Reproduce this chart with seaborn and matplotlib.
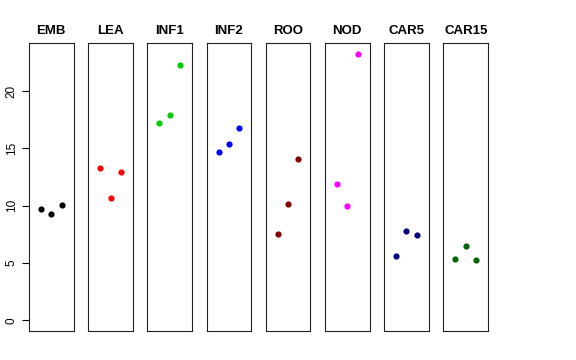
import pandas as pd
import numpy as np
import seaborn as sns
import matplotlib.pyplot as plt

# tissues and their three replicate values
tissues = ['EMB', 'LEA', 'INF1', 'INF2', 'ROO', 'NOD', 'CAR5', 'CAR15']
reps = [1, 2, 3]
emb = [9.70, 9.24, 10.05]
lea = [13.28, 10.64, 12.93]
inf1 = [17.26, 17.90, 22.28]
inf2 = [14.70, 15.37, 16.77]
roo = [7.52, 10.11, 14.06]
nod = [11.91, 9.99, 23.24]
car5 = [5.58, 7.81, 7.41]
car15 = [5.34, 6.45, 5.28]
colors = ['black', 'red', '#00CD00', 'blue', '#8B0000', 'magenta', '#000080', '#006400']
yticks = [0, 5, 10, 15, 20]

values = [emb, lea, inf1, inf2, roo, nod, car5, car15]
df = pd.DataFrame({
    'tissue': np.repeat(tissues, len(reps)),
    'rep': reps * len(tissues),
    'value': np.concatenate(values),
})

sns.set_style('white', {'text.color': 'black', 'axes.labelcolor': 'black',
                        'xtick.color': 'black', 'ytick.color': 'black'})
plt.rcParams['font.family'] = ['Liberation Sans', 'DejaVu Sans']

fig, axes = plt.subplots(1, len(tissues), figsize=(5.76, 3.6), dpi=100, sharey=True)
fig.subplots_adjust(left=29 / 576, right=488 / 576, top=1 - 43.3 / 360,
                    bottom=1 - 331 / 360, wspace=0.327)

# R style 4% padding around (0, max)
ymax = df['value'].max()
pad = 0.04 * ymax

for ax, t, c in zip(axes, tissues, colors):
    sub = df[df['tissue'] == t]
    sns.scatterplot(data=sub, x='rep', y='value', color=c, s=20, linewidth=0, ax=ax)
    ax.set_xlim(-0.16, 4.16)
    ax.set_ylim(-pad, ymax + pad)
    ax.set_xticks([])
    ax.set_xlabel('')
    ax.set_ylabel('')
    ax.set_title(t, fontsize=9.5, fontweight='bold', pad=7, color='black')
    for sp in ax.spines.values():
        sp.set_linewidth(0.8)
        sp.set_color('#222222')
    ax.tick_params(left=False, labelleft=False)

ax0 = axes[0]
ax0.set_yticks(yticks)
ax0.tick_params(left=True, labelleft=True, length=5, width=0.8, labelsize=8.5,
                pad=3, colors='black')
for lab in ax0.get_yticklabels():
    lab.set_rotation(90)
    lab.set_va('center')

fig.savefig('out.png', dpi=100)
